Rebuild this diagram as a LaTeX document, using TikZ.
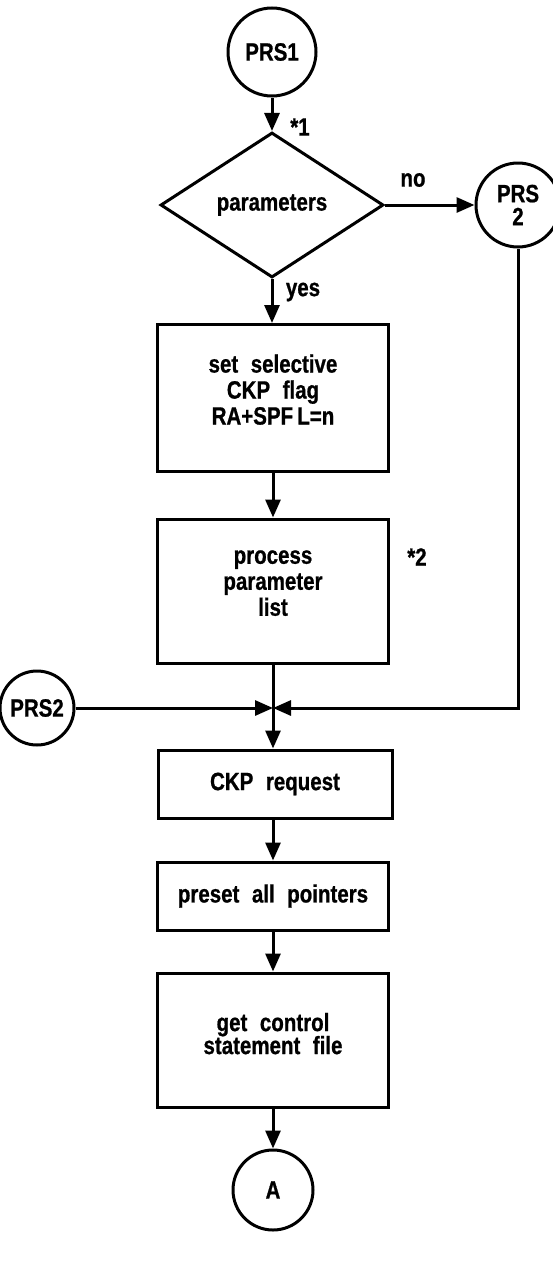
\documentclass[tikz,border=0pt]{standalone}
\usepackage{fontspec}
\setmainfont{Liberation Sans}[FakeStretch=0.82, WordSpace=2.2, BoldFeatures={FakeBold=0.8}]
\usetikzlibrary{arrows.meta,shapes.geometric}

\tikzset{
  lbl/.style={font=\fontsize{25}{26}\selectfont\bfseries},
  stepbox/.style={draw, line width=3pt, minimum width=231pt, inner sep=2pt,
    align=center, lbl},
  conn/.style={draw, circle, line width=3pt, inner sep=0pt, align=center, lbl},
  decision/.style={draw, diamond, line width=3pt, aspect=1.5, inner sep=0pt,
    minimum width=223pt, minimum height=145pt, lbl},
  flow/.style={line width=3pt, -{Triangle[length=18pt,width=15pt]}},
  plain/.style={line width=3pt}
}

\begin{document}
\begin{tikzpicture}[x=1pt,y=-1pt]
  \useasboundingbox (0,0) rectangle (553,1277);

  % entry connector and the parameter test
  \node[conn, minimum size=88pt] (prs1) at (272,52) {PRS1};
  \node[decision] (dec) at (272,205) {parameters};
  \node[conn, minimum size=84pt] (prsR) at (518,205) {PRS\\[-3pt]2};

  % processing steps
  \node[stepbox, minimum height=147pt] (b1) at (273,398) {set selective\\CKP flag\\RA+SPF\,L=n\\[-9pt]};
  \node[stepbox, minimum height=144pt] (b2) at (273,591) {process\\parameter\\list\\[-10pt]};
  \coordinate (j) at (273,708);
  \node[conn, minimum size=74pt] (prsL) at (37,708) {PRS2};
  \node[stepbox, minimum height=68pt, minimum width=234pt] (b3) at (275,784) {CKP request};
  \node[stepbox, minimum height=68pt] (b4) at (273,896) {preset all pointers};
  \node[stepbox, minimum height=134pt] (b5) at (273,1040) {get control\\[-3pt]statement file\\[-13pt]};
  \node[conn, minimum size=80pt] (exitA) at (273,1190) {A};

  % annotations
  \node[lbl] (n1) at (300,127) {*1};
  \node[lbl] (no) at (413,180) {no};
  \node[lbl] (yes) at (303,292) {yes};
  \node[lbl] (n2) at (417,557) {*2};

  % connectors
  \draw[flow] (prs1) -- (dec);
  \draw[flow] (dec.east) -- (prsR.west);
  \draw[flow] (dec.south) -- (dec.south |- b1.north);
  \draw[flow] (b1) -- (b1 |- b2.north);
  \draw[plain] (b2) -- (j);
  \draw[flow] (prsL) -- (j);
  \draw[flow] (prsR.south) |- (j);
  \draw[flow] (j) -- (j |- b3.north);
  \draw[flow] (b3.south -| j) -- (j |- b4.north);
  \draw[flow] (b4.south -| j) -- (j |- b5.north);
  \draw[flow] (b5.south -| j) -- (exitA);
\end{tikzpicture}
\end{document}
